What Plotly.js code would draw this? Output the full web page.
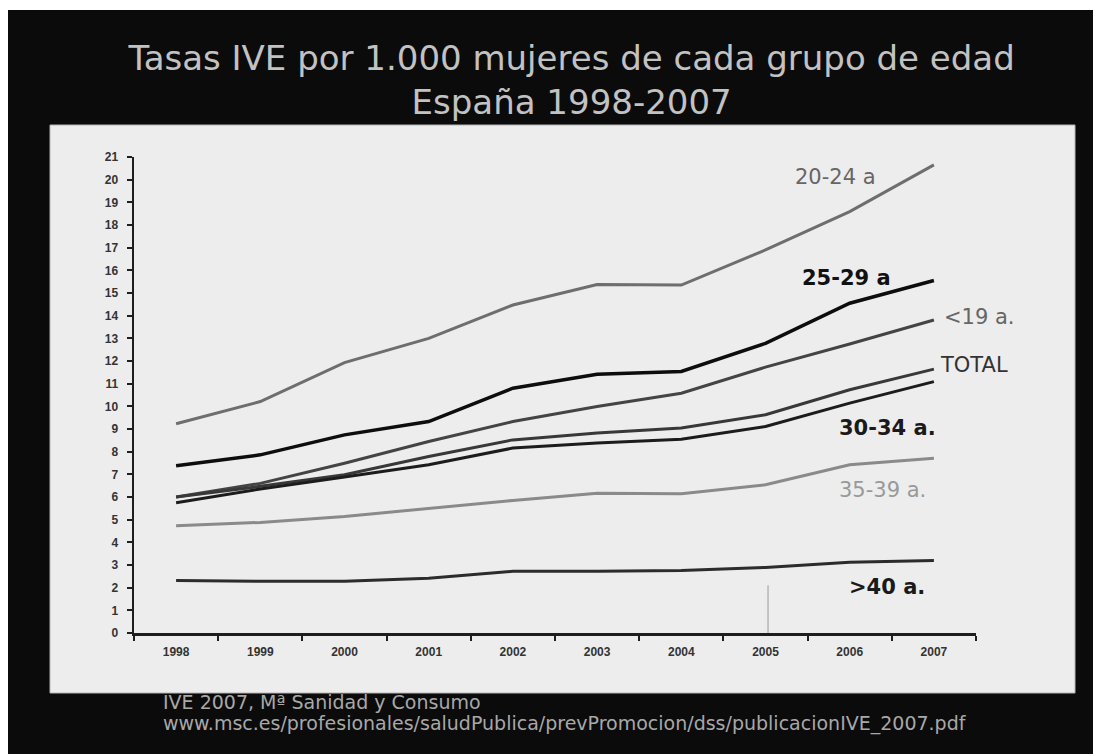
<!DOCTYPE html>
<html>
<head>
<meta charset="utf-8">
<script src="https://cdn.plot.ly/plotly-3.0.1.min.js"></script>
<style>
  html, body { margin: 0; padding: 0; background: #0b0b0b; }
  #chart { width: 1093px; height: 754px; }
</style>
</head>
<body>
<div id="chart"></div>
<script>
// ---- data ----
var years = ['1998', '1999', '2000', '2001', '2002', '2003', '2004', '2005', '2006', '2007'];
var yTicks = [0,1,2,3,4,5,6,7,8,9,10,11,12,13,14,15,16,17,18,19,20,21];

var seriesNames = ['20-24 a', '25-29 a', '<19 a.', 'TOTAL', '30-34 a.', '35-39 a.', '>40 a.'];
var g20_24 = [9.23, 10.21, 11.93, 13.0, 14.47, 15.37, 15.35, 16.9, 18.59, 20.65];
var g25_29 = [7.38, 7.86, 8.74, 9.33, 10.8, 11.42, 11.54, 12.78, 14.55, 15.55];
var gLess19 = [6.0, 6.6, 7.49, 8.45, 9.33, 9.99, 10.58, 11.73, 12.75, 13.81];
var gTotal = [6.0, 6.47, 6.98, 7.79, 8.52, 8.82, 9.04, 9.63, 10.73, 11.64];
var g30_34 = [5.75, 6.35, 6.88, 7.42, 8.16, 8.38, 8.55, 9.11, 10.14, 11.09];
var g35_39 = [4.73, 4.88, 5.14, 5.51, 5.85, 6.17, 6.14, 6.54, 7.42, 7.71];
var gOver40 = [2.32, 2.28, 2.28, 2.42, 2.72, 2.72, 2.76, 2.89, 3.12, 3.2];

var titleLines = ['Tasas IVE por 1.000 mujeres de cada grupo de edad', 'España 1998-2007'];
var sourceLines = ['IVE 2007, Mª Sanidad y Consumo',
  'www.msc.es/profesionales/saludPublica/prevPromocion/dss/publicacionIVE_2007.pdf'];

// ---- styles ----
var allSeries = [g20_24, g25_29, gLess19, gTotal, g30_34, g35_39, gOver40];
var colors = ['#6e6e6e', '#0d0d0d', '#444444', '#383838', '#1c1c1c', '#8a8a8a', '#2c2c2c'];
var widths = [3, 3.5, 3, 3, 3, 3, 3];

var traces = allSeries.map(function (vals, i) {
  return {
    type: 'scatter', mode: 'lines', x: years, y: vals, name: seriesNames[i],
    line: { color: colors[i], width: widths[i] }, hoverinfo: 'x+y+name'
  };
});

// label placement (category index / value of the label anchor)
var labelPos = [
  { x: 7.33, y: 20.1, color: '#666666', weight: 'normal' },
  { x: 7.41, y: 15.66, color: '#111111', weight: 'bold' },
  { x: 9.10, y: 13.94, color: '#666666', weight: 'normal' },
  { x: 9.05, y: 11.82, color: '#333333', weight: 'normal' },
  { x: 7.85, y: 9.04, color: '#1a1a1a', weight: 'bold' },
  { x: 7.85, y: 6.31, color: '#999999', weight: 'normal' },
  { x: 7.97, y: 2.03, color: '#1a1a1a', weight: 'bold' }
];

var annotations = seriesNames.map(function (n, i) {
  var p = labelPos[i];
  return {
    xref: 'x', yref: 'y', x: p.x, y: p.y, text: n.replace('<', '&lt;').replace('>', '&gt;'),
    showarrow: false, xanchor: 'left', yanchor: 'middle',
    font: { family: 'DejaVu Sans', size: 21, color: p.color, weight: p.weight }
  };
});

annotations.push({
  xref: 'paper', yref: 'paper', x: (161 - 134) / 842, y: (633 - 702) / 476,
  text: sourceLines[0], showarrow: false, xanchor: 'left', yanchor: 'middle',
  font: { family: 'DejaVu Sans', size: 19, color: '#a8a8a8' }
});
annotations.push({
  xref: 'paper', yref: 'paper', x: (161 - 134) / 842, y: (633 - 723) / 476,
  text: sourceLines[1], showarrow: false, xanchor: 'left', yanchor: 'middle',
  font: { family: 'DejaVu Sans', size: 19, color: '#a8a8a8' }
});

var shapes = [
  // light panel
  { type: 'rect', layer: 'below', xref: 'paper', yref: 'paper',
    x0: (50 - 134) / 842, x1: (1075 - 134) / 842, y0: (633 - 693) / 476, y1: (633 - 125) / 476,
    fillcolor: '#ededed', line: { color: '#b5b5b5', width: 1 } },
  // white border strips of the photographed slide
  { type: 'rect', layer: 'below', xref: 'paper', yref: 'paper',
    x0: (0 - 134) / 842, x1: (8 - 134) / 842, y0: (633 - 754) / 476, y1: (633 - 0) / 476,
    fillcolor: '#ffffff', line: { width: 0 } },
  { type: 'rect', layer: 'below', xref: 'paper', yref: 'paper',
    x0: (0 - 134) / 842, x1: (1093 - 134) / 842, y0: (633 - 10) / 476, y1: (633 - 0) / 476,
    fillcolor: '#ffffff', line: { width: 0 } },
  // stray thin vertical mark near 2005
  { type: 'line', layer: 'below', xref: 'x', yref: 'y', x0: 7.03, x1: 7.03, y0: 0, y1: 2.1,
    line: { color: '#9a9a9a', width: 1 } }
];

var layout = {
  width: 1093, height: 754,
  margin: { l: 134, r: 117, t: 157, b: 121 },
  paper_bgcolor: '#0b0b0b',
  plot_bgcolor: 'rgba(0,0,0,0)',
  showlegend: false,
  title: {
    text: titleLines.join('<br>'),
    font: { family: 'DejaVu Sans', size: 34, color: '#c2c2c2' },
    xref: 'container', yref: 'container', x: 0.523, xanchor: 'center',
    y: 1 - 70 / 754, yanchor: 'top'
  },
  xaxis: {
    type: 'category', categoryorder: 'array', categoryarray: years,
    range: [-0.5, 9.5], tickson: 'boundaries',
    showline: true, linecolor: '#1e1e1e', linewidth: 2.5,
    ticks: 'outside', ticklen: 5, tickwidth: 2, tickcolor: '#1e1e1e',
    showgrid: false, zeroline: false, ticklabelstandoff: 6,
    tickfont: { family: 'Liberation Sans', size: 12, color: '#333333', weight: 'bold' }
  },
  yaxis: {
    range: [0, 21], tickvals: yTicks, ticktext: yTicks.map(String),
    showline: true, linecolor: '#1e1e1e', linewidth: 2.5,
    ticks: 'outside', ticklen: 5, tickwidth: 2, tickcolor: '#1e1e1e',
    showgrid: false, zeroline: false, ticklabelstandoff: 6,
    tickfont: { family: 'Liberation Sans', size: 12, color: '#333333', weight: 'bold' }
  },
  annotations: annotations,
  shapes: shapes
};

Plotly.newPlot('chart', traces, layout, { displayModeBar: false, staticPlot: true });
</script>
</body>
</html>
